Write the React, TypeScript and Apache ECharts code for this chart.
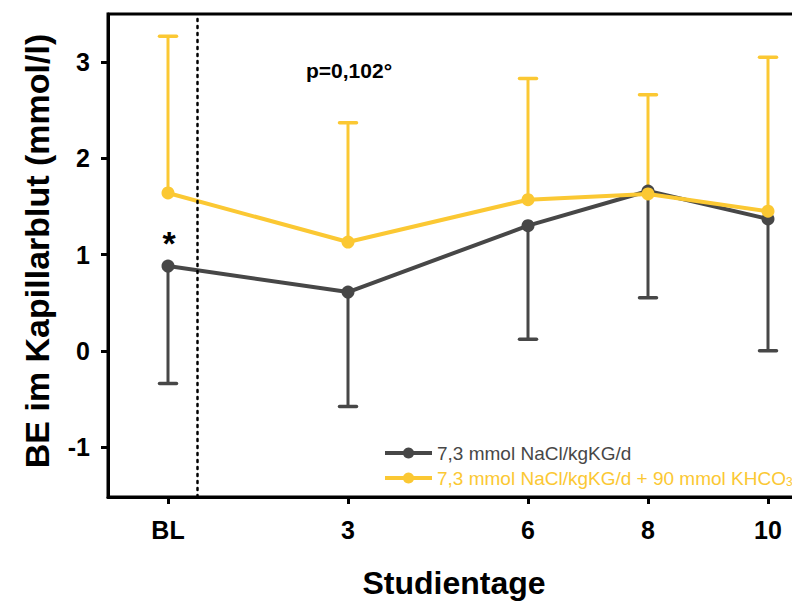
import React, { useEffect, useRef } from "react";
import * as echarts from "echarts";

const DAYS = [0, 3, 6, 8, 10];
const X_TICKS = [0, 3, 6, 8, 10];
const Y_TICKS = [-1, 0, 1, 2, 3];
const NACL_MEAN = [0.88, 0.61, 1.3, 1.66, 1.37];
const NACL_LOW = [-0.34, -0.58, 0.12, 0.55, 0.0];
const KHCO3_MEAN = [1.64, 1.13, 1.57, 1.63, 1.45];
const KHCO3_HIGH = [3.27, 2.37, 2.83, 2.66, 3.05];
const SERIES_NAMES = ["7,3 mmol NaCl/kgKG/d", "7,3 mmol NaCl/kgKG/d + 90 mmol KHCO3"];
const BASELINE_MARK = 0.48;

const GRAY = "#474747";
const YELLOW = "#FBC833";
const FONT = "Arial, 'Liberation Sans', Helvetica, sans-serif";

export default function App() {
  const ref = useRef<HTMLDivElement>(null);
  useEffect(() => {
    if (!ref.current) return;
    const chart = echarts.init(ref.current, null, { renderer: "svg" });

    const errData = (mean: number[], end: number[]) => DAYS.map((d, i) => [d, mean[i], end[i]]);
    const errRender = (color: string) => (params: any, api: any) => {
      const p0 = api.coord([api.value(0), api.value(1)]);
      const p1 = api.coord([api.value(0), api.value(2)]);
      const half = 8.5;
      return {
        type: "group",
        children: [
          { type: "line", shape: { x1: p0[0], y1: p0[1], x2: p1[0], y2: p1[1] }, style: { stroke: color, lineWidth: 3 } },
          { type: "line", shape: { x1: p1[0] - half, y1: p1[1], x2: p1[0] + half, y2: p1[1] }, style: { stroke: color, lineWidth: 3.5, lineCap: "round" } },
        ],
      };
    };

    chart.setOption({
      animation: false,
      textStyle: { fontFamily: FONT },
      grid: {
        left: 108, top: 14, width: 720, height: 483,
        show: true, borderColor: "#000", borderWidth: 3, backgroundColor: "transparent",
      },
      legend: {
        left: 378, top: 438, orient: "vertical", itemWidth: 47, itemHeight: 14, itemGap: 5,
        selectedMode: false,
        lineStyle: { width: 4 },
        data: [
          { name: SERIES_NAMES[0], textStyle: { color: GRAY } },
          { name: SERIES_NAMES[1], textStyle: { color: YELLOW } },
        ],
        textStyle: {
          fontSize: 19, lineHeight: 20, fontFamily: FONT,
          rich: {
            sub: { fontSize: 12, lineHeight: 20, verticalAlign: "bottom", padding: [6, 0, 0, 0] },
          },
        },
        formatter: (n: string) => (n.endsWith("KHCO3") ? n.slice(0, -1) + "{sub|3}" : n),
      },
      xAxis: {
        type: "value", min: -1, max: 11,
        axisLine: { show: true, onZero: false, lineStyle: { color: "#000", width: 3 } },
        axisTick: { show: true, customValues: X_TICKS, length: 7, lineStyle: { color: "#000", width: 3 } },
        axisLabel: {
          customValues: X_TICKS, margin: 20, fontSize: 25, fontWeight: "bold", color: "#000", fontFamily: FONT,
          formatter: (v: number) => (v === 0 ? "BL" : String(v)),
        },
        splitLine: { show: false },
      },
      yAxis: {
        type: "value", min: -1.52, max: 3.5,
        axisLine: { show: true, onZero: false, lineStyle: { color: "#000", width: 3 } },
        axisTick: { show: true, customValues: Y_TICKS, length: 7, lineStyle: { color: "#000", width: 3 } },
        axisLabel: { customValues: Y_TICKS, margin: 18, fontSize: 25, fontWeight: "bold", color: "#000", fontFamily: FONT },
        splitLine: { show: false },
      },
      graphic: [
        {
          type: "text", x: 37, y: 251, rotation: Math.PI / 2,
          style: { text: "BE im Kapillarblut (mmol/l)", fontSize: 34, fontWeight: "bold", fill: "#000", fontFamily: FONT, align: "center", verticalAlign: "middle" },
        },
        {
          type: "text", x: 454, y: 583,
          style: { text: "Studientage", fontSize: 32, fontWeight: "bold", fill: "#000", fontFamily: FONT, align: "center", verticalAlign: "middle" },
        },
        {
          type: "text", x: 349, y: 70,
          style: { text: "p=0,102°", fontSize: 21, fontWeight: "bold", fill: "#000", fontFamily: FONT, align: "center", verticalAlign: "middle" },
        },
        {
          type: "text", x: 169, y: 243,
          style: { text: "*", fontSize: 34, fontWeight: "bold", fill: "#000", fontFamily: FONT, align: "center", verticalAlign: "middle" },
        },
      ],
      series: [
        {
          type: "custom", name: "errNaCl", silent: true, z: 2,
          renderItem: errRender(GRAY), data: errData(NACL_MEAN, NACL_LOW),
          encode: { x: 0, y: [1, 2] },
        },
        {
          type: "custom", name: "errKHCO3", silent: true, z: 2,
          renderItem: errRender(YELLOW), data: errData(KHCO3_MEAN, KHCO3_HIGH),
          encode: { x: 0, y: [1, 2] },
        },
        {
          type: "line", name: SERIES_NAMES[0], z: 3,
          data: DAYS.map((d, i) => [d, NACL_MEAN[i]]),
          color: GRAY, lineStyle: { color: GRAY, width: 4 },
          symbol: "circle", symbolSize: 13, itemStyle: { color: GRAY },
          markLine: {
            silent: true, symbol: "none", label: { show: false },
            lineStyle: { color: "#000", type: [2, 5], width: 2.5, cap: "round" },
            data: [{ xAxis: BASELINE_MARK }],
          },
        },
        {
          type: "line", name: SERIES_NAMES[1], z: 4,
          data: DAYS.map((d, i) => [d, KHCO3_MEAN[i]]),
          color: YELLOW, lineStyle: { color: YELLOW, width: 4 },
          symbol: "circle", symbolSize: 13, itemStyle: { color: YELLOW },
        },
      ],
    });
    return () => chart.dispose();
  }, []);

  return (
    <div style={{ position: "fixed", left: 0, top: 0, width: 792, height: 601, overflow: "hidden", background: "#fff" }}>
      <div ref={ref} style={{ width: 860, height: 601 }} />
    </div>
  );
}
